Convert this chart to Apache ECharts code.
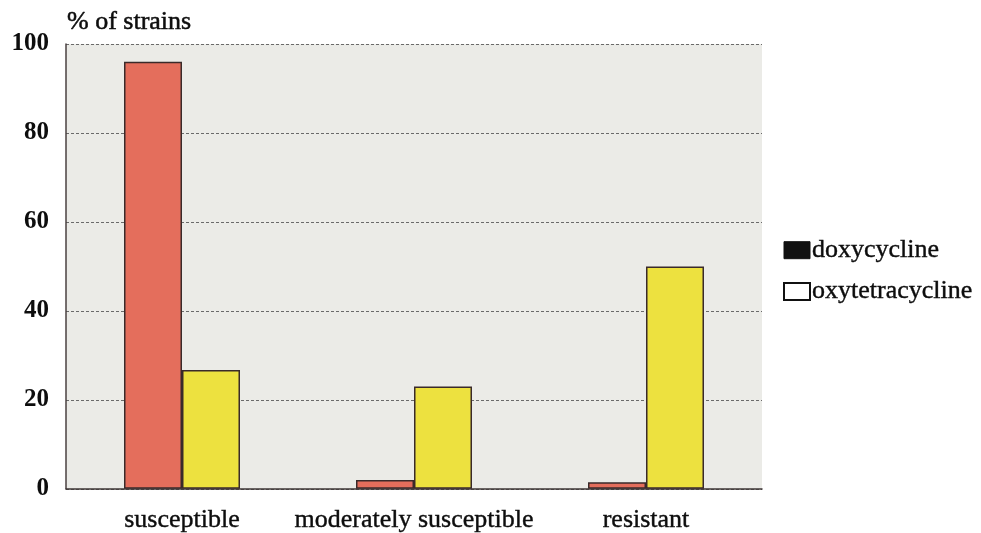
<!DOCTYPE html>
<html>
<head>
<meta charset="utf-8">
<script src="https://cdn.jsdelivr.net/npm/echarts@6/dist/echarts.min.js"></script>
<style>
  html, body { margin: 0; padding: 0; background: #ffffff; }
  #chart { width: 981px; height: 533px; }
</style>
</head>
<body>
<div id="chart"></div>
<script>
// Susceptibility of strains to two tetracyclines
const categories = ['susceptible', 'moderately susceptible', 'resistant'];
const doxycycline = [96, 2, 1.5];
const oxytetracycline = [26.7, 23, 50];
const yTicks = [0, 20, 40, 60, 80, 100];

const serif = '"Liberation Serif", "DejaVu Serif", serif';
const ink = '#0d0d0d';
const chart = echarts.init(document.getElementById('chart'));

chart.setOption({
  backgroundColor: '#ffffff',
  animation: false,
  textStyle: { fontFamily: serif },
  grid: {
    left: 66, right: 219, top: 44, bottom: 44,
    show: true, backgroundColor: '#ebebe7', borderWidth: 0
  },
  title: {
    text: '% of strains',
    left: 62, top: 4,
    textStyle: { fontFamily: serif, fontSize: 26, fontWeight: 'normal', color: ink,
                 textBorderColor: ink, textBorderWidth: 0.5 }
  },
  legend: {
    orient: 'vertical',
    left: 778, top: 232,
    itemWidth: 26, itemHeight: 17, itemGap: 15,
    icon: 'rect',
    textStyle: { fontFamily: serif, fontSize: 26, color: ink, padding: [0, 0, 0, -3],
                 textBorderColor: ink, textBorderWidth: 0.4 },
    data: [
      { name: 'doxycycline', itemStyle: { color: '#111111', borderColor: '#111111', borderWidth: 1 } },
      { name: 'oxytetracycline', itemStyle: { color: '#ffffff', borderColor: '#111111', borderWidth: 2 } }
    ]
  },
  xAxis: {
    type: 'category',
    data: categories,
    axisLine: { lineStyle: { color: '#3d3535', width: 1.5 } },
    axisTick: { show: false },
    axisLabel: { interval: 0, fontFamily: serif, fontSize: 26, color: ink, margin: 18,
                 textBorderColor: ink, textBorderWidth: 0.4 }
  },
  yAxis: {
    type: 'value',
    min: yTicks[0], max: yTicks[yTicks.length - 1], interval: 20,
    axisLine: { show: true, lineStyle: { color: '#4a4040', width: 1.5 } },
    axisTick: { show: false },
    axisLabel: { fontFamily: serif, fontSize: 25, fontWeight: 'bold', color: ink, margin: 17 },
    splitLine: { lineStyle: { color: '#6a6a6a', type: [3, 2], width: 1 } }
  },
  series: [
    {
      name: 'doxycycline', type: 'bar', data: doxycycline,
      barGap: '0%', barCategoryGap: '50%',
      itemStyle: { color: '#e46e5c', borderColor: '#3a2a2a', borderWidth: 1.5 }
    },
    {
      name: 'oxytetracycline', type: 'bar', data: oxytetracycline,
      itemStyle: { color: '#ede13f', borderColor: '#3a2a2a', borderWidth: 1.5 }
    }
  ]
});
</script>
</body>
</html>
